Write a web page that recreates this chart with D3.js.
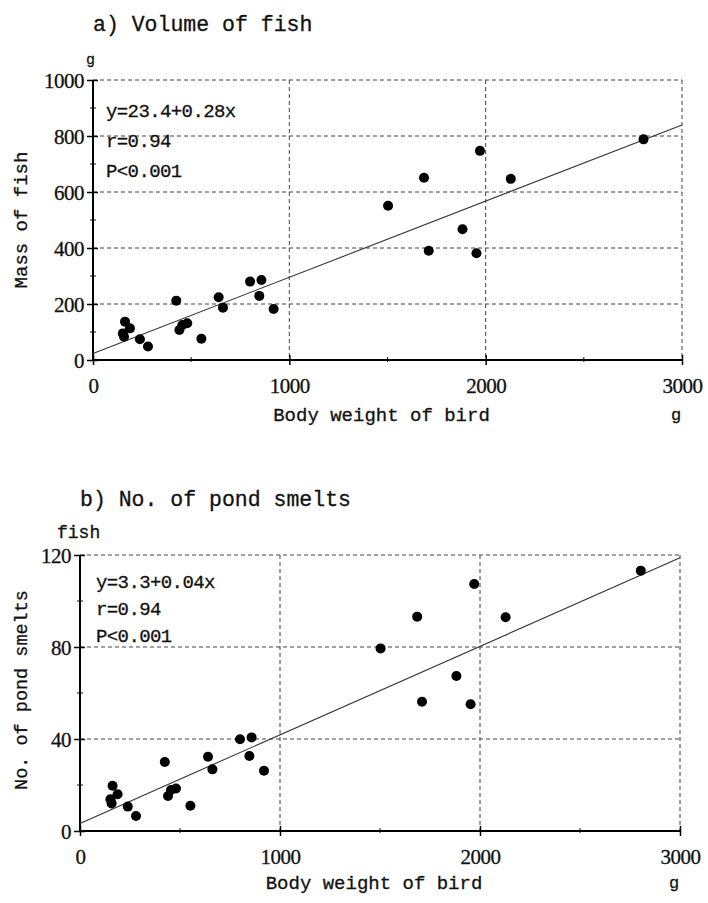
<!DOCTYPE html>
<html>
<head>
<meta charset="utf-8">
<script src="https://cdn.jsdelivr.net/npm/d3@7"></script>
<style>
  body { margin: 0; background: #fff; }
  svg { display: block; }
  text { stroke: #111; stroke-width: 0.3; }
</style>
</head>
<body>
<svg id="chart" width="708" height="903"></svg>
<script>
// body weight of each bird (g), same birds in both panels
const birdWeight = [163, 188, 152, 158, 239, 280, 424, 440, 455, 480, 552, 640, 662, 800, 858, 847, 920,
    1503, 1686, 1971, 2128, 1882, 1710, 1953, 2804];
// a) mass of fish in stomach (g)
const fishMass = [137, 113, 95, 83, 74, 48, 212, 107, 125, 131, 76, 224, 187, 280, 286, 229, 182,
    551, 651, 747, 647, 467, 390, 381, 788];
// b) number of pond smelts
const smeltCount = [19.7, 16, 13.8, 12, 10.6, 6.5, 30, 15.2, 17.8, 18.5, 11, 32.3, 26.8, 39.9, 40.7, 32.6, 26.2,
    79.4, 93.2, 107.4, 92.9, 67.4, 56.2, 55.1, 113.2];

const xTicks = [0, 1000, 2000, 3000];
const xMinorTicks = [500, 1500, 2500];
const massTicks = [0, 200, 400, 600, 800, 1000];
const massMinorTicks = [100, 300, 500, 700, 900];
const smeltTicks = [0, 40, 80, 120];
const smeltMinorTicks = [20, 60, 100];

const statsA = ['y=23.4+0.28x', 'r=0.94', 'P<0.001'];
const statsB = ['y=3.3+0.04x', 'r=0.94', 'P<0.001'];
// regression lines as drawn in the figure
const fitA = { intercept: 23.4, slope: 0.272 };
const fitB = { intercept: 3.3, slope: 0.0385 };

const svg = d3.select('#chart');
const monoFont = '"Liberation Mono", "DejaVu Sans Mono", monospace';
const numFont = '"Liberation Serif", serif';

function drawPanel (p) {
    const x = d3.scaleLinear().domain([0, 3000]).range([p.left, p.right]);
    const y = d3.scaleLinear().domain([0, p.yMax]).range([p.bottom, p.top]);
    const g = svg.append('g');

    // dashed grid at the major ticks (incl. top and right edges)
    g.append('g').selectAll('line')
        .data(p.yTicks.filter(d => d > 0))
        .join('line')
        .attr('x1', p.left).attr('x2', p.right)
        .attr('y1', d => y(d)).attr('y2', d => y(d))
        .attr('stroke', '#444').attr('stroke-width', 1)
        .attr('stroke-dasharray', '4,3');
    g.append('g').selectAll('line')
        .data(xTicks.filter(d => d > 0))
        .join('line')
        .attr('x1', d => x(d)).attr('x2', d => x(d))
        .attr('y1', p.top).attr('y2', p.bottom)
        .attr('stroke', '#444').attr('stroke-width', 1)
        .attr('stroke-dasharray', '4,3');

    // y axis
    const yAxis = g.append('g')
        .attr('transform', `translate(${p.left},0)`)
        .call(d3.axisLeft(y).tickValues(p.yTicks).tickSize(6).tickPadding(3).tickFormat(d3.format('d')));
    yAxis.selectAll('.tick line').attr('x2', 5).attr('x1', -6).attr('stroke-width', 1.5);
    yAxis.selectAll('.tick text')
        .attr('font-family', numFont).attr('font-size', 21).attr('fill', '#111')
        .attr('letter-spacing', -0.5).attr('dy', '0.34em');
    yAxis.select('.domain').attr('stroke-width', 2).attr('d', `M0,${p.bottom}V${p.top}`);
    g.append('g')
        .attr('transform', `translate(${p.left},0)`)
        .selectAll('line')
        .data(p.yMinor)
        .join('line')
        .attr('x1', -3).attr('x2', 3)
        .attr('y1', d => y(d)).attr('y2', d => y(d))
        .attr('stroke', '#111').attr('stroke-width', 1);

    // x axis
    const xAxis = g.append('g')
        .attr('transform', `translate(0,${p.bottom})`)
        .call(d3.axisBottom(x).tickValues(xTicks).tickSize(5).tickPadding(13).tickFormat(d3.format('d')));
    xAxis.selectAll('.tick line').attr('y1', -5).attr('y2', 5).attr('stroke-width', 1.5);
    xAxis.selectAll('.tick text')
        .attr('font-family', numFont).attr('font-size', 21).attr('fill', '#111')
        .attr('letter-spacing', -0.5);
    xAxis.select('.domain').attr('stroke-width', 2).attr('d', `M${p.left},0H${p.right}`);
    g.append('g')
        .attr('transform', `translate(0,${p.bottom})`)
        .selectAll('line')
        .data(xMinorTicks)
        .join('line')
        .attr('x1', d => x(d)).attr('x2', d => x(d))
        .attr('y1', -3).attr('y2', 2)
        .attr('stroke', '#111').attr('stroke-width', 1);

    // regression line
    g.append('line')
        .attr('x1', x(0)).attr('y1', y(p.fit.intercept))
        .attr('x2', x(3000)).attr('y2', y(p.fit.intercept + p.fit.slope * 3000))
        .attr('stroke', '#333').attr('stroke-width', 1.1);

    // points
    g.append('g').selectAll('circle')
        .data(p.values.map((v, i) => [birdWeight[i], v]))
        .join('circle')
        .attr('cx', d => x(d[0]))
        .attr('cy', d => y(d[1]))
        .attr('r', 5)
        .attr('fill', '#000');

    // title, units, labels
    g.append('text')
        .attr('x', p.left).attr('y', p.titleY)
        .attr('font-family', monoFont).attr('font-size', 21.5).attr('fill', '#111')
        .text(p.title);
    g.append('text')
        .attr('x', p.unitX).attr('y', p.unitY)
        .attr('font-family', monoFont).attr('font-size', p.unitSize).attr('fill', '#111')
        .text(p.unit);
    g.append('text')
        .attr('transform', `translate(${p.yLabelX},${p.yLabelY}) rotate(-90)`)
        .attr('text-anchor', 'middle')
        .attr('font-family', monoFont).attr('font-size', p.yLabelSize).attr('fill', '#111')
        .text(p.yLabel);
    g.append('text')
        .attr('x', (p.left + p.right) / 2 - 6).attr('y', p.xLabelY)
        .attr('text-anchor', 'middle')
        .attr('font-family', monoFont).attr('font-size', 19).attr('fill', '#111')
        .text('Body weight of bird');
    g.append('text')
        .attr('x', p.right - 11).attr('y', p.xLabelY - 1)
        .attr('font-family', monoFont).attr('font-size', 17).attr('fill', '#111')
        .text('g');

    // statistics block
    g.append('g').selectAll('text')
        .data(p.stats)
        .join('text')
        .attr('x', p.statsX)
        .attr('y', (d, i) => p.statsY + i * p.statsGap)
        .attr('font-family', monoFont).attr('font-size', 19).attr('fill', '#111')
        .attr('letter-spacing', -0.6)
        .text(d => d);
}

drawPanel({
    left: 93, right: 682, top: 80, bottom: 360,
    yMax: 1000, yTicks: massTicks, yMinor: massMinorTicks,
    values: fishMass, fit: fitA, stats: statsA,
    title: 'a) Volume of fish', titleY: 31,
    unit: 'g', unitX: 86, unitY: 64, unitSize: 15,
    yLabel: 'Mass of fish', yLabelSize: 19, yLabelX: 27, yLabelY: 220,
    xLabelY: 421,
    statsX: 106, statsY: 117, statsGap: 30
});

drawPanel({
    left: 80, right: 680, top: 555, bottom: 831,
    yMax: 120, yTicks: smeltTicks, yMinor: smeltMinorTicks,
    values: smeltCount, fit: fitB, stats: statsB,
    title: 'b) No. of pond smelts', titleY: 506,
    unit: 'fish', unitX: 57, unitY: 538, unitSize: 18,
    yLabel: 'No. of pond smelts', yLabelSize: 18.5, yLabelX: 27, yLabelY: 690,
    xLabelY: 889,
    statsX: 96, statsY: 588, statsGap: 27
});
</script>
</body>
</html>
